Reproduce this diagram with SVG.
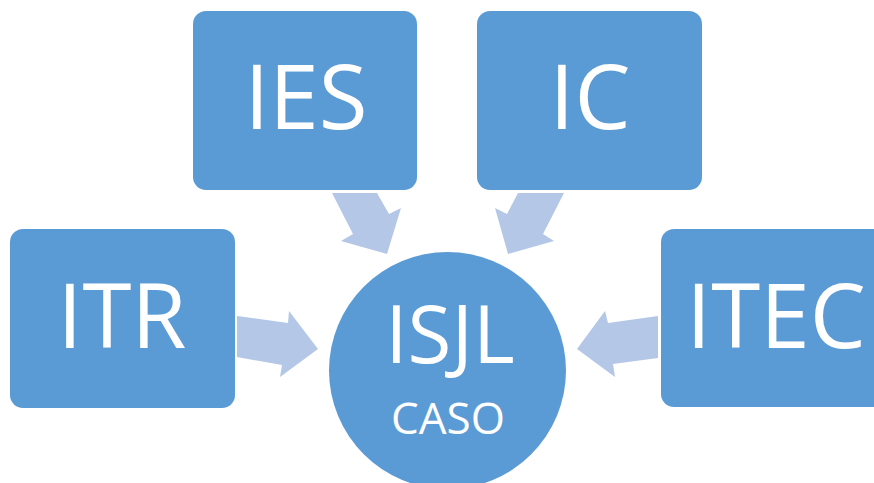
<svg xmlns="http://www.w3.org/2000/svg" width="874" height="483" viewBox="0 0 874 483">
<style>
.box{fill:#5B9BD5;}
.arr{fill:#B4C7E7;}
.t{font-family:"Open Sans","Liberation Sans",sans-serif;fill:#FFFFFF;text-anchor:middle;}
</style>
<rect width="874" height="483" fill="#FFFFFF"/>
<g id="connectors">
<polygon class="arr" points="332,193 377,193 389,214 401,208 387,254 341,241 353,234"/>
<polygon class="arr" points="564,193 518,193 507,214 495,208 508,254 554,241 543,234"/>
<polygon class="arr" points="237,316 288,323 289,311 318,349 280,377 282,365 237,357"/>
<polygon class="arr" points="658,316 608,323 605,311 577,349 615,377 613,364 658,358"/>
</g>
<g id="IES">
<rect class="box" x="193" y="11" width="224" height="179" rx="13"/>
<text class="t" x="306" y="129" font-size="89">IES</text>
</g>
<g id="IC">
<rect class="box" x="477" y="11" width="225" height="179" rx="13"/>
<text class="t" x="590" y="129" font-size="89">IC</text>
</g>
<g id="ITR">
<rect class="box" x="10" y="229" width="225" height="179" rx="13"/>
<text class="t" x="122" y="348" font-size="89">ITR</text>
</g>
<g id="ITEC">
<rect class="box" x="661" y="229" width="225" height="178" rx="13"/>
<text class="t" x="776" y="348" font-size="89">ITEC</text>
</g>
<g id="ISJL">
<circle class="box" cx="447.5" cy="370.5" r="118.5"/>
<text class="t" x="450" y="363" font-size="80">ISJL</text>
<text class="t" x="448" y="434" font-size="44">CASO</text>
</g>
</svg>
